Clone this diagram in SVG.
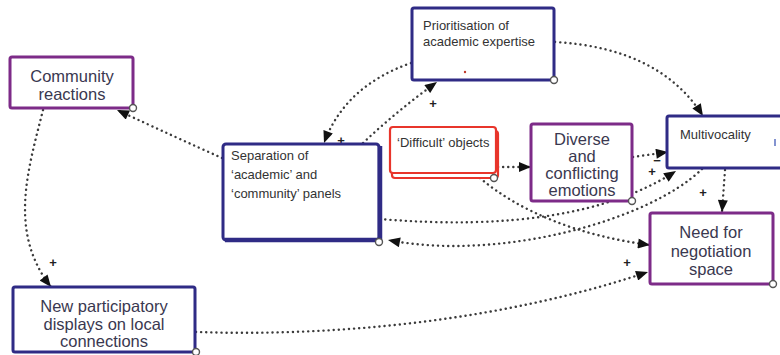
<svg xmlns="http://www.w3.org/2000/svg" width="780" height="355" viewBox="0 0 780 355">
  <defs>
    <marker id="arrow" viewBox="0 0 12 10" refX="12" refY="5" markerWidth="13" markerHeight="10" markerUnits="userSpaceOnUse" orient="auto">
      <path d="M0,0 L12,5 L0,10 Z" fill="#111"/>
    </marker>
  </defs>
  <style>
    .box { fill: #fff; stroke-width: 3; }
    .blue { stroke: #2f2b85; }
    .purple { stroke: #7d2b88; }
    .red { fill: #fff; stroke: #e8352b; stroke-width: 2.2; }
    .port { fill: #fff; stroke: #555; stroke-width: 1.4; }
    .link { fill: none; stroke: #3a3a3a; stroke-width: 2.4; stroke-dasharray: 0.1 5; stroke-linecap: round; marker-end: url(#arrow); }
    .big { font-family: "Liberation Sans", Arial, sans-serif; font-size: 16.5px; fill: #3a3850; text-anchor: middle; }
    .small { font-family: "Liberation Sans", Arial, sans-serif; font-size: 13px; fill: #333; }
    .sign { font-family: "Liberation Sans", Arial, sans-serif; font-size: 13px; font-weight: bold; fill: #222; text-anchor: middle; }
  </style>

  <rect width="780" height="355" fill="#fff"/>

  <!-- connectors -->
  <g id="connectors">
    <path class="link" d="M222,158 Q175,137 117,110"/>
    <path class="link" d="M43,110 C28,170 8,232 51,287"/>
    <path class="link" d="M411,63 Q345,86 324,143"/>
    <path class="link" d="M363,143 Q398,110 437,82"/>
    <path class="link" d="M555,42 Q660,48 703,116"/>
    <path class="link" d="M498,167 L531,167"/>
    <path class="link" d="M633,157 L668,152"/>
    <path class="link" d="M380,219 C510,230 610,214 676,171"/>
    <path class="link" d="M702,169 C650,220 500,262 388,240"/>
    <path class="link" d="M480,178 C520,212 580,236 650,245"/>
    <path class="link" d="M196,332 C350,337 510,318 648,272"/>
    <path class="link" d="M725,170 L722,212"/>
    <text class="sign" x="53" y="267">+</text>
    <text class="sign" x="433" y="108">+</text>
    <text class="sign" x="341" y="145">+</text>
    <text class="sign" x="657" y="165">−</text>
    <text class="sign" x="652" y="176">+</text>
    <text class="sign" x="703" y="197">+</text>
    <text class="sign" x="627" y="267">+</text>
  </g>

  <!-- nodes -->
  <g id="community-reactions">
    <rect class="box purple" x="10" y="57" width="123" height="51" rx="2"/>
    <text class="big" x="72" y="82">Community</text>
    <text class="big" x="72" y="100">reactions</text>
    <circle class="port" cx="133" cy="108" r="3.5"/>
  </g>

  <g id="prioritisation">
    <rect class="box blue" x="412" y="8" width="142" height="72" rx="2"/>
    <text class="small" x="423" y="30">Prioritisation of</text>
    <text class="small" x="423" y="46">academic expertise</text>
    <circle cx="465" cy="72" r="1.2" fill="#c0392b"/>
    <circle class="port" cx="554" cy="80" r="3.5"/>
  </g>

  <g id="separation">
    <rect class="box blue" x="223" y="144" width="156" height="96" rx="3"/>
    <path d="M380,146 L380,240 L225,240" fill="none" stroke="#2f2b85" stroke-width="4.5"/>
    <text class="small" x="231" y="160" font-size="14">Separation of</text>
    <text class="small" x="231" y="179" font-size="14">‘academic’ and</text>
    <text class="small" x="231" y="198" font-size="14">‘community’ panels</text>
    <circle class="port" cx="379" cy="242" r="3.5"/>
  </g>

  <g id="difficult-objects">
    <rect class="red" x="392" y="131" width="106" height="47" rx="3"/>
    <rect class="red" x="390" y="127" width="106" height="46" rx="3"/>
    <text class="small" x="397" y="147" font-size="12">‘Difficult’ objects</text>
    <circle class="port" cx="494" cy="178" r="3.5"/>
  </g>

  <g id="diverse-emotions">
    <rect class="box purple" x="531" y="124" width="101" height="77" rx="2"/>
    <text class="big" x="582" y="145">Diverse</text>
    <text class="big" x="582" y="162">and</text>
    <text class="big" x="582" y="179">conflicting</text>
    <text class="big" x="582" y="196">emotions</text>
    <circle class="port" cx="632" cy="201" r="3.5"/>
  </g>

  <g id="multivocality">
    <rect class="box blue" x="667" y="116" width="118" height="52" rx="2"/>
    <text class="small" x="680" y="139" font-size="13.5">Multivocality</text>
    <line x1="775" y1="139" x2="775" y2="146" stroke="#5a6fc0" stroke-width="1.5"/>
  </g>

  <g id="negotiation-space">
    <rect class="box purple" x="650" y="213" width="123" height="71" rx="2"/>
    <text class="big" x="711" y="238">Need for</text>
    <text class="big" x="711" y="257">negotiation</text>
    <text class="big" x="711" y="275">space</text>
    <circle class="port" cx="773" cy="284" r="3.5"/>
  </g>

  <g id="participatory-displays">
    <rect class="box blue" x="13" y="287" width="182" height="65" rx="2"/>
    <text class="big" x="104" y="312">New participatory</text>
    <text class="big" x="104" y="330">displays on local</text>
    <text class="big" x="104" y="347">connections</text>
    <circle class="port" cx="196" cy="352" r="3.5"/>
  </g>
</svg>
